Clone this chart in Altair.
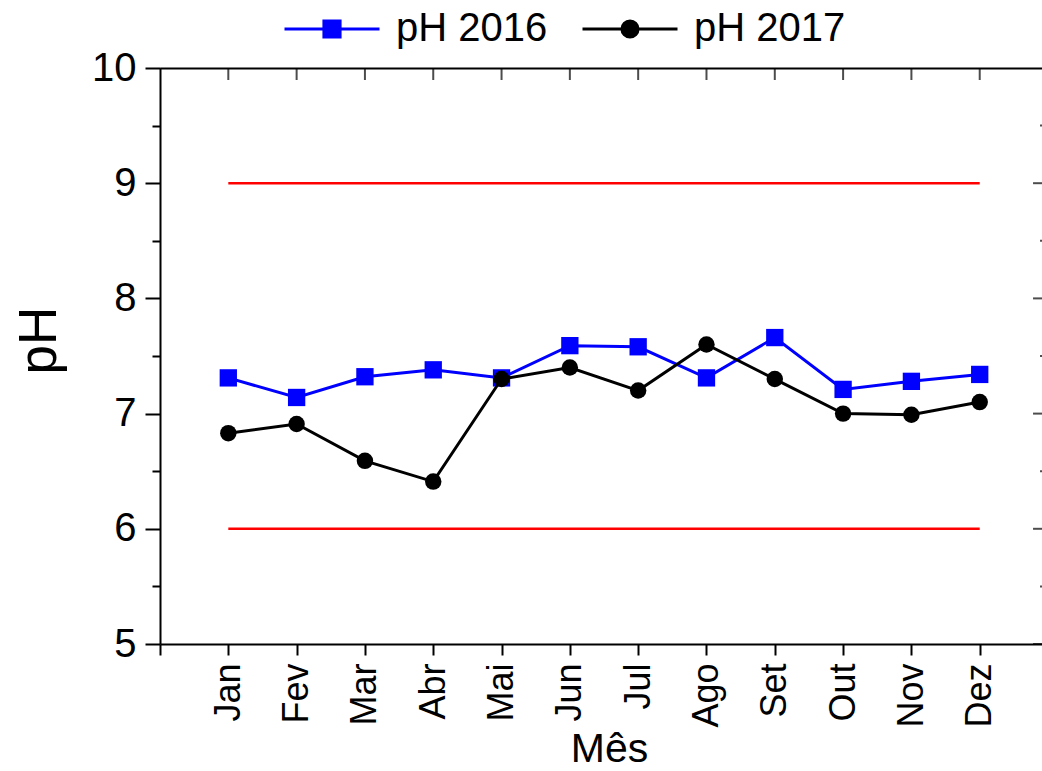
import altair as alt
import pandas as pd

# Monthly pH readings
months = ["Jan", "Fev", "Mar", "Abr", "Mai", "Jun", "Jul", "Ago", "Set", "Out", "Nov", "Dez"]
ph_2016 = [7.31, 7.14, 7.32, 7.38, 7.31, 7.59, 7.58, 7.31, 7.66, 7.21, 7.28, 7.34]
ph_2017 = [6.83, 6.91, 6.59, 6.41, 7.30, 7.40, 7.20, 7.60, 7.30, 7.00, 6.99, 7.10]
series_names = ["pH 2016", "pH 2017"]
series_colors = ["#0000ff", "#000000"]
limits = [6, 9]          # allowed pH range
y_major = [5, 6, 7, 8, 9, 10]
y_minor = [5.5, 6.5, 7.5, 8.5, 9.5]
x_ticks = list(range(0, 13))
x_frame_right = 13       # right edge of the frame, in month units

FONT = "Liberation Sans"
W, H = 882, 576
X_MAX = W / 68.31

rows = []
for i, m in enumerate(months):
    rows.append({"idx": i + 1, "month": m, "series": series_names[0], "ph": ph_2016[i]})
    rows.append({"idx": i + 1, "month": m, "series": series_names[1], "ph": ph_2017[i]})
df = pd.DataFrame(rows)
limits_df = pd.DataFrame({"y": limits, "x1": [1] * len(limits), "x2": [len(months)] * len(limits)})
top_df = pd.DataFrame({"x": x_ticks, "y": [10] * len(x_ticks)})
right_major_df = pd.DataFrame({"x": [x_frame_right] * len(y_major), "y": y_major})
right_minor_df = pd.DataFrame({"x": [x_frame_right] * len(y_minor), "y": y_minor})

xs = alt.Scale(domain=[0, X_MAX], nice=False, zero=False)
ys = alt.Scale(domain=[5, 10], nice=False, zero=False)

label_list = "[" + ",".join("'%s'" % m for m in months) + "]"
bottom_axis = alt.Axis(
    orient="bottom", values=x_ticks, grid=False,
    labelExpr="datum.value >= 1 && datum.value <= %d ? %s[datum.value - 1] : ''" % (len(months), label_list),
    labelAngle=270, labelAlign="right", labelBaseline="middle", labelPadding=8,
    labelFont=FONT, labelFontSize=36, labelColor="black",
    tickSize=11, tickWidth=2, tickColor="black",
    domainColor="black", domainWidth=2,
    title="Mês", titleFont=FONT, titleFontSize=41, titleFontWeight="normal", titleColor="black",
    titleX=449, titleY=117, titleAlign="center", titleBaseline="alphabetic",
    labelOverlap=False, labelFlush=False,
)
top_axis = alt.Axis(orient="top", ticks=False, labels=False, grid=False, title=None,
                    domainColor="black", domainWidth=2)
left_axis = alt.Axis(
    orient="left", values=y_major, grid=False, format="d",
    labelFont=FONT, labelFontSize=40, labelColor="black", labelPadding=9,
    tickSize=15, tickWidth=2, tickColor="black",
    domainColor="black", domainWidth=2,
    title="pH", titleFont=FONT, titleFontSize=53, titleFontWeight="normal", titleColor="black",
    titleAngle=270, titleX=-105, titleY=272, titleAlign="center", titleBaseline="alphabetic",
)
left_minor_axis = alt.Axis(orient="left", values=y_minor, grid=False, labels=False, domain=False,
                           tickSize=8, tickWidth=2, tickColor="black", title=None)

base = alt.Chart(df)

s16 = base.transform_filter(alt.datum.series == series_names[0])
s17 = base.transform_filter(alt.datum.series == series_names[1])

line16 = s16.mark_line(color=series_colors[0], strokeWidth=3).encode(
    x=alt.X("idx:Q", scale=xs, axis=bottom_axis),
    y=alt.Y("ph:Q", scale=ys, axis=left_axis),
)
pts16 = s16.mark_point(shape="square", filled=True, color=series_colors[0], size=300, opacity=1).encode(
    x=alt.X("idx:Q", scale=xs, axis=top_axis),
    y=alt.Y("ph:Q", scale=ys, axis=left_minor_axis),
)
line17 = s17.mark_line(color=series_colors[1], strokeWidth=3).encode(
    x=alt.X("idx:Q", scale=xs, axis=None),
    y=alt.Y("ph:Q", scale=ys, axis=None),
)
pts17 = s17.mark_point(shape="circle", filled=True, color=series_colors[1], size=270, opacity=1).encode(
    x=alt.X("idx:Q", scale=xs, axis=None),
    y=alt.Y("ph:Q", scale=ys, axis=None),
)

limit_rules = alt.Chart(limits_df).mark_rule(color="#ff0000", strokeWidth=2.5).encode(
    x=alt.X("x1:Q", scale=xs, axis=None),
    x2="x2:Q",
    y=alt.Y("y:Q", scale=ys, axis=None),
)

# inward ticks on the top and right edges of the frame
top_ticks = alt.Chart(top_df).mark_tick(orient="vertical", size=24, thickness=2, color="black", clip=True).encode(
    x=alt.X("x:Q", scale=xs, axis=None),
    y=alt.Y("y:Q", scale=ys, axis=None),
)
right_major = alt.Chart(right_major_df).mark_tick(orient="horizontal", size=30, thickness=2, color="black", clip=True).encode(
    x=alt.X("x:Q", scale=xs, axis=None),
    y=alt.Y("y:Q", scale=ys, axis=None),
)
right_minor = alt.Chart(right_minor_df).mark_tick(orient="horizontal", size=16, thickness=2, color="black", clip=True).encode(
    x=alt.X("x:Q", scale=xs, axis=None),
    y=alt.Y("y:Q", scale=ys, axis=None),
)

# legend: line with marker for each series
sym_paths = [
    "M-1,0H1M-0.17,-0.17H0.17V0.17H-0.17Z",
    "M-1,0H1M-0.17,0A0.17,0.17 0 1,0 0.17,0A0.17,0.17 0 1,0 -0.17,0Z",
]
legend_def = alt.Legend(
    orient="none", legendX=123, legendY=-88, direction="horizontal", title=None,
    labelFont=FONT, labelFontSize=40, labelColor="black", labelOffset=15,
    columnPadding=28, symbolSize=9025, symbolStrokeWidth=3, symbolOpacity=1, padding=0,
)
legend_layer = base.mark_point(filled=True, opacity=0, size=9025).encode(
    x=alt.X("idx:Q", scale=xs, axis=None),
    y=alt.Y("ph:Q", scale=ys, axis=None),
    fill=alt.Fill("series:N", scale=alt.Scale(domain=series_names, range=series_colors), legend=legend_def),
    stroke=alt.Stroke("series:N", scale=alt.Scale(domain=series_names, range=series_colors), legend=legend_def),
    shape=alt.Shape("series:N", scale=alt.Scale(domain=series_names, range=sym_paths), legend=legend_def),
)

chart = alt.layer(
    limit_rules, line16, pts16, line17, pts17, top_ticks, right_major, right_minor, legend_layer
).resolve_axis(x="independent", y="independent").properties(
    width=W, height=H,
    autosize=alt.AutoSizeParams(type="none"),
    padding={"left": 160, "top": 68, "right": 0, "bottom": 127},
    background="white",
).configure_view(stroke=None)

chart.save("out.html", embed_options={"renderer": "svg", "actions": False})
